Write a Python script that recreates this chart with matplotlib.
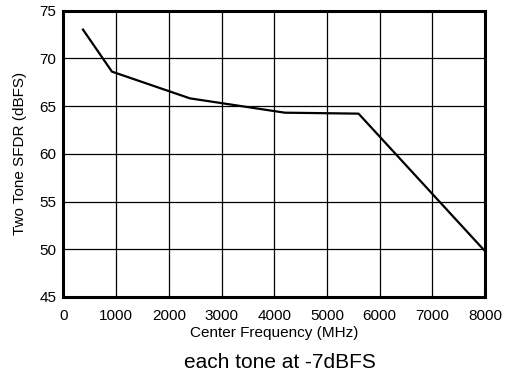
import numpy as np
import matplotlib.pyplot as plt

plt.rcParams['font.family'] = ['Liberation Sans', 'DejaVu Sans']

# values
freq_mhz = [370, 919, 2400, 4200, 5600, 8000]
sfdr_dbfs = [73.0, 68.6, 65.8, 64.3, 64.2, 49.8]

x_ticks = [0, 1000, 2000, 3000, 4000, 5000, 6000, 7000, 8000]
y_ticks = [45, 50, 55, 60, 65, 70, 75]

fig = plt.figure(figsize=(5.06, 3.75), dpi=100)
ax = fig.add_axes([63.5 / 506, 1 - 297 / 375, (485 - 63.5) / 506, (297 - 10.5) / 375])

ax.plot(freq_mhz, sfdr_dbfs, color="black", linewidth=1.6, zorder=3)

ax.set_xlim(0, 8000)
ax.set_ylim(45, 75)
ax.set_xticks(x_ticks)
ax.set_yticks(y_ticks)
ax.grid(True, color="black", linewidth=0.9)
ax.tick_params(length=0, labelsize=11)
ax.tick_params(axis="x", pad=9)
ax.tick_params(axis="y", pad=5)
for s in ax.spines.values():
    s.set_linewidth(2.2)

ax.set_xlabel("Center Frequency (MHz)", fontsize=11, labelpad=2)
ax.yaxis.set_label_coords(-0.087, 0.5)
ax.set_ylabel("Two Tone SFDR (dBFS)", fontsize=11)

fig.text(280 / 506, 1 - 362 / 375, "each tone at -7dBFS", ha="center", va="center", fontsize=15)

fig.savefig("out.png", dpi=100)
